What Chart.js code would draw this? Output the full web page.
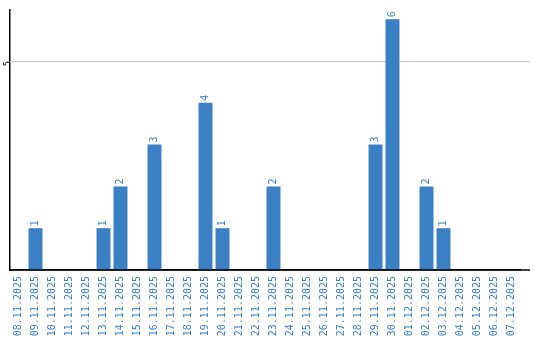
<!DOCTYPE html>
<html>
<head>
<meta charset="utf-8">
<script src="https://cdn.jsdelivr.net/npm/chart.js@4.4.1/dist/chart.umd.min.js"></script>
<style>
  html, body { margin: 0; padding: 0; background: #fff; }
  #wrap { width: 540px; height: 340px; }
</style>
</head>
<body>
<div id="wrap"><canvas id="grafico"></canvas></div>
<script>
// dados
const dias = [
  '08.11.2025', '09.11.2025', '10.11.2025', '11.11.2025', '12.11.2025',
  '13.11.2025', '14.11.2025', '15.11.2025', '16.11.2025', '17.11.2025',
  '18.11.2025', '19.11.2025', '20.11.2025', '21.11.2025', '22.11.2025',
  '23.11.2025', '24.11.2025', '25.11.2025', '26.11.2025', '27.11.2025',
  '28.11.2025', '29.11.2025', '30.11.2025', '01.12.2025', '02.12.2025',
  '03.12.2025', '04.12.2025', '05.12.2025', '06.12.2025', '07.12.2025'
];
const quantidades = [
  0, 1, 0, 0, 0,
  1, 2, 0, 3, 0,
  0, 4, 1, 0, 0,
  2, 0, 0, 0, 0,
  0, 3, 6, 0, 2,
  1, 0, 0, 0, 0
];
const ticksY = [0, 5];

const AZUL = '#3b7fc4';
const MONO = '"DejaVu Sans Mono", "Liberation Mono", monospace';

// rótulos de valor girados acima das barras
const rotulosPlugin = {
  id: 'rotulos',
  afterDatasetsDraw(chart) {
    const ctx = chart.ctx;
    const meta = chart.getDatasetMeta(0);
    ctx.save();
    ctx.fillStyle = AZUL;
    ctx.font = '10px ' + MONO;
    ctx.textAlign = 'left';
    ctx.textBaseline = 'middle';
    meta.data.forEach((bar, i) => {
      const v = quantidades[i];
      if (!v) return;
      ctx.save();
      ctx.translate(bar.x, bar.y - 2);
      ctx.rotate(-Math.PI / 2);
      ctx.fillText(String(v), 0, 0);
      ctx.restore();
    });
    ctx.restore();
  }
};

// linha de grade do 5 e eixo X prolongados até a borda direita
const linhasPlugin = {
  id: 'linhas',
  beforeDatasetsDraw(chart) {
    const ctx = chart.ctx;
    const a = chart.chartArea;
    const y = chart.scales.y;
    ctx.save();
    ctx.strokeStyle = '#c8c8c8';
    ctx.lineWidth = 1;
    const y5 = Math.round(y.getPixelForValue(5)) + 0.5;
    ctx.beginPath();
    ctx.moveTo(a.left, y5);
    ctx.lineTo(530, y5);
    ctx.stroke();
    ctx.restore();
  },
  afterDraw(chart) {
    const ctx = chart.ctx;
    const a = chart.chartArea;
    ctx.save();
    ctx.strokeStyle = '#000';
    ctx.lineWidth = 1.5;
    ctx.beginPath();
    ctx.moveTo(a.left, a.bottom);
    ctx.lineTo(530, a.bottom);
    ctx.stroke();
    ctx.restore();
  }
};

new Chart(document.getElementById('grafico'), {
  type: 'bar',
  data: {
    labels: dias,
    datasets: [{
      data: quantidades,
      backgroundColor: AZUL,
      borderWidth: 0,
      categoryPercentage: 1,
      barPercentage: 0.82
    }]
  },
  options: {
    responsive: true,
    maintainAspectRatio: false,
    animation: false,
    layout: { padding: { top: 10, right: 20, left: 0, bottom: 0 } },
    plugins: {
      legend: { display: false },
      tooltip: { enabled: false }
    },
    scales: {
      x: {
        grid: { display: false, drawTicks: false },
        border: { color: '#000', width: 1.5 },
        afterFit: s => { s.height = 70; },
        ticks: {
          color: AZUL,
          font: { family: MONO, size: 10 },
          minRotation: 90,
          maxRotation: 90,
          autoSkip: false,
          padding: 6
        }
      },
      y: {
        min: 0,
        max: 6.22,
        afterBuildTicks: s => { s.ticks = ticksY.map(v => ({ value: v })); },
        afterFit: s => { s.width = 10; },
        grid: { display: false, drawTicks: false },
        border: { color: '#000', width: 1.5 },
        ticks: {
          color: '#000',
          font: { family: 'DejaVu Sans', size: 8 },
          minRotation: 90,
          maxRotation: 90,
          padding: 2,
          callback: v => v === 0 ? '' : String(v)
        }
      }
    }
  },
  plugins: [rotulosPlugin, linhasPlugin]
});
</script>
</body>
</html>
